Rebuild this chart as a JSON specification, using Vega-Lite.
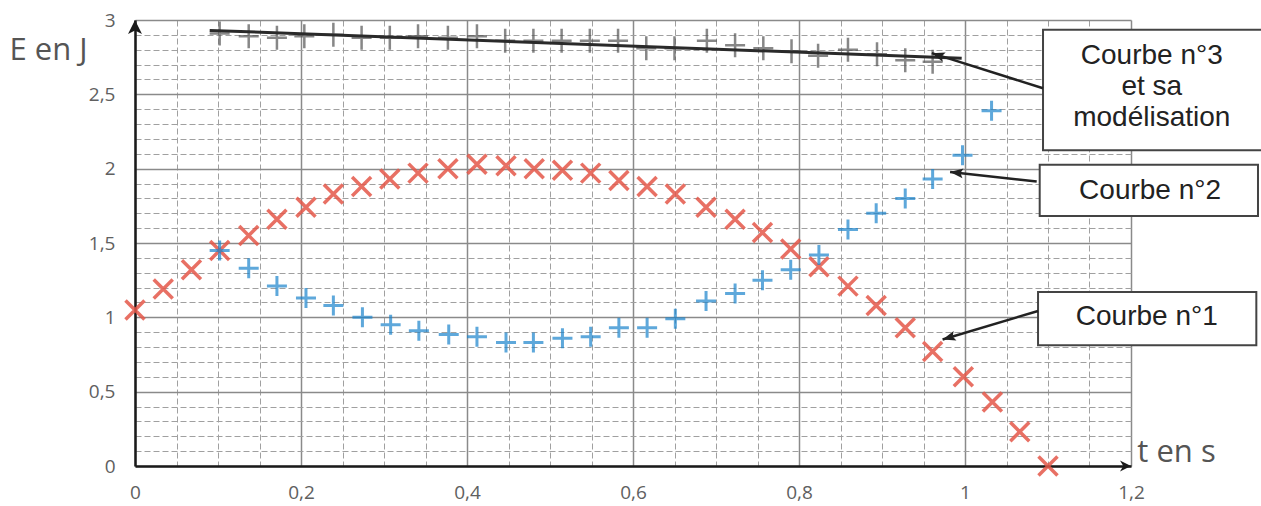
{
  "$schema": "https://vega.github.io/schema/vega-lite/v6.json",
  "width": 996,
  "height": 446,
  "autosize": "none",
  "padding": {"left": 135, "top": 20, "right": 130, "bottom": 40},
  "background": "white",
  "config": {"view": {"stroke": null}},
  "datasets": {
    "c1": [
      {"t": 0, "E": 1.05}, {"t": 0.034, "E": 1.19}, {"t": 0.068, "E": 1.32}, {"t": 0.102, "E": 1.45},
      {"t": 0.137, "E": 1.55}, {"t": 0.171, "E": 1.66}, {"t": 0.206, "E": 1.74}, {"t": 0.239, "E": 1.83},
      {"t": 0.273, "E": 1.88}, {"t": 0.307, "E": 1.93}, {"t": 0.341, "E": 1.97}, {"t": 0.377, "E": 2.0},
      {"t": 0.412, "E": 2.03}, {"t": 0.447, "E": 2.02}, {"t": 0.481, "E": 2.0}, {"t": 0.515, "E": 1.99},
      {"t": 0.549, "E": 1.97}, {"t": 0.583, "E": 1.92}, {"t": 0.617, "E": 1.88}, {"t": 0.651, "E": 1.83},
      {"t": 0.688, "E": 1.74}, {"t": 0.723, "E": 1.66}, {"t": 0.756, "E": 1.57}, {"t": 0.79, "E": 1.46},
      {"t": 0.824, "E": 1.34}, {"t": 0.859, "E": 1.21}, {"t": 0.893, "E": 1.08}, {"t": 0.928, "E": 0.93},
      {"t": 0.961, "E": 0.77}, {"t": 0.998, "E": 0.6}, {"t": 1.033, "E": 0.43}, {"t": 1.066, "E": 0.23},
      {"t": 1.1, "E": 0.0}
    ],
    "c2": [
      {"t": 0.102, "E": 1.45}, {"t": 0.137, "E": 1.33}, {"t": 0.171, "E": 1.21}, {"t": 0.206, "E": 1.13},
      {"t": 0.239, "E": 1.08}, {"t": 0.274, "E": 1.0}, {"t": 0.308, "E": 0.95}, {"t": 0.342, "E": 0.91},
      {"t": 0.378, "E": 0.885}, {"t": 0.412, "E": 0.87}, {"t": 0.447, "E": 0.83}, {"t": 0.48, "E": 0.83},
      {"t": 0.515, "E": 0.86}, {"t": 0.549, "E": 0.87}, {"t": 0.583, "E": 0.93}, {"t": 0.617, "E": 0.93},
      {"t": 0.651, "E": 0.99}, {"t": 0.688, "E": 1.11}, {"t": 0.723, "E": 1.16}, {"t": 0.756, "E": 1.25},
      {"t": 0.79, "E": 1.32}, {"t": 0.824, "E": 1.42}, {"t": 0.859, "E": 1.59}, {"t": 0.893, "E": 1.7},
      {"t": 0.928, "E": 1.8}, {"t": 0.961, "E": 1.93}, {"t": 0.997, "E": 2.09}, {"t": 1.032, "E": 2.39}
    ],
    "c3": [
      {"t": 0.102, "E": 2.91}, {"t": 0.137, "E": 2.89}, {"t": 0.171, "E": 2.88}, {"t": 0.204, "E": 2.89},
      {"t": 0.239, "E": 2.9}, {"t": 0.273, "E": 2.88}, {"t": 0.307, "E": 2.88}, {"t": 0.341, "E": 2.89},
      {"t": 0.377, "E": 2.88}, {"t": 0.412, "E": 2.89}, {"t": 0.446, "E": 2.86}, {"t": 0.48, "E": 2.86},
      {"t": 0.514, "E": 2.86}, {"t": 0.548, "E": 2.86}, {"t": 0.582, "E": 2.86}, {"t": 0.616, "E": 2.81},
      {"t": 0.65, "E": 2.81}, {"t": 0.689, "E": 2.86}, {"t": 0.723, "E": 2.83}, {"t": 0.757, "E": 2.81},
      {"t": 0.791, "E": 2.79}, {"t": 0.823, "E": 2.76}, {"t": 0.859, "E": 2.8}, {"t": 0.894, "E": 2.77},
      {"t": 0.928, "E": 2.73}, {"t": 0.961, "E": 2.72}
    ],
    "model": [{"t": 0.09, "E": 2.93}, {"t": 0.996, "E": 2.743}],
    "axisEnds": [{"t": 0, "E": 3, "dir": "up"}, {"t": 1.2, "E": 0, "dir": "right"}],
    "callouts": [
      {"id": 3, "label": "Courbe n°3\net sa\nmodélisation", "bx": 1.094, "bx2": 1.358, "by": 2.934, "by2": 2.124, "tx": 1.225, "ty": 2.755, "at": 1.094, "aE": 2.541, "ht": 0.96, "hE": 2.777},
      {"id": 2, "label": "Courbe n°2", "bx": 1.09, "bx2": 1.353, "by": 2.027, "by2": 1.682, "tx": 1.223, "ty": 1.851, "at": 1.0864, "aE": 1.914, "ht": 0.982, "hE": 1.978},
      {"id": 1, "label": "Courbe n°1", "bx": 1.088, "bx2": 1.351, "by": 1.171, "by2": 0.813, "tx": 1.219, "ty": 1.0, "at": 1.088, "aE": 1.043, "ht": 0.973, "hE": 0.851}
    ]
  },
  "layer": [
    {
      "data": {"name": "c1"},
      "mark": {"type": "point", "opacity": 0},
      "encoding": {
        "x": {"field": "t", "type": "quantitative", "scale": {"domain": [0, 1.2], "nice": false},
          "axis": {"orient": "bottom", "values": [0.05, 0.1, 0.15, 0.25, 0.3, 0.35, 0.45, 0.5, 0.55, 0.65, 0.7, 0.75, 0.85, 0.9, 0.95, 1.05, 1.1, 1.15],
            "grid": true, "gridColor": "#a0a0a0", "gridWidth": 1, "gridDash": [6, 3], "labels": false, "ticks": false, "domain": false, "title": null}},
        "y": {"field": "E", "type": "quantitative", "scale": {"domain": [0, 3], "nice": false},
          "axis": {"orient": "left", "values": [0.1, 0.2, 0.3, 0.4, 0.6, 0.7, 0.8, 0.9, 1.1, 1.2, 1.3, 1.4, 1.6, 1.7, 1.8, 1.9, 2.1, 2.2, 2.3, 2.4, 2.6, 2.7, 2.8, 2.9],
            "grid": true, "gridColor": "#a0a0a0", "gridWidth": 1, "gridDash": [6, 3], "labels": false, "ticks": false, "domain": false, "title": null}}
      }
    },
    {
      "data": {"name": "c1"},
      "mark": {"type": "point", "opacity": 0},
      "encoding": {
        "x": {"field": "t", "type": "quantitative", "scale": {"domain": [0, 1.2], "nice": false},
          "axis": {"orient": "bottom", "values": [0, 0.2, 0.4, 0.6, 0.8, 1, 1.2], "format": ".1~f", "labelExpr": "replace(datum.label, '.', ',')",
            "grid": true, "gridColor": "#8a8a8a", "gridWidth": 1.5, "ticks": false, "tickSize": 0,
            "domain": true, "domainColor": "#1a1a1a", "domainWidth": 2.5,
            "labelFont": "Open Sans", "labelFontSize": 19, "labelColor": "#606060", "labelPadding": 17, "labelFlush": false, "labelOverlap": false,
            "title": "t en s", "titleFont": "Open Sans", "titleFontSize": 31, "titleFontWeight": "normal", "titleColor": "#555",
            "titleX": 1041, "titleY": -14, "titleAlign": "center", "titleBaseline": "middle", "titleAngle": 0}},
        "y": {"field": "E", "type": "quantitative", "scale": {"domain": [0, 3], "nice": false},
          "axis": {"orient": "left", "values": [0, 0.5, 1, 1.5, 2, 2.5, 3], "format": ".1~f", "labelExpr": "replace(datum.label, '.', ',')",
            "grid": true, "gridColor": "#8a8a8a", "gridWidth": 1.5, "ticks": false, "tickSize": 0,
            "domain": true, "domainColor": "#1a1a1a", "domainWidth": 2.5,
            "labelFont": "Open Sans", "labelFontSize": 19, "labelColor": "#606060", "labelPadding": 20, "labelFlush": false, "labelOverlap": false,
            "title": "E en J", "titleFont": "Open Sans", "titleFontSize": 31, "titleFontWeight": "normal", "titleColor": "#555",
            "titleX": -87, "titleY": 30, "titleAlign": "center", "titleBaseline": "middle", "titleAngle": 0}}
      }
    },
    {
      "data": {"name": "c3"},
      "mark": {"type": "point", "shape": "M-1,0L1,0M0,-1.2L0,1.2", "filled": false, "size": 400, "stroke": "#555", "strokeWidth": 2.5},
      "encoding": {
        "x": {"field": "t", "type": "quantitative", "scale": {"domain": [0, 1.2], "nice": false}, "axis": null},
        "y": {"field": "E", "type": "quantitative", "scale": {"domain": [0, 3], "nice": false}, "axis": null}
      }
    },
    {
      "data": {"name": "model"},
      "mark": {"type": "line", "color": "#2a2a2a", "strokeWidth": 3},
      "encoding": {
        "x": {"field": "t", "type": "quantitative", "scale": {"domain": [0, 1.2], "nice": false}, "axis": null},
        "y": {"field": "E", "type": "quantitative", "scale": {"domain": [0, 3], "nice": false}, "axis": null}
      }
    },
    {
      "data": {"name": "c1"},
      "mark": {"type": "point", "shape": "M-1,-1L1,1M-1,1L1,-1", "filled": false, "size": 361, "stroke": "#e5584a", "strokeWidth": 3.5, "opacity": 0.85},
      "encoding": {
        "x": {"field": "t", "type": "quantitative", "scale": {"domain": [0, 1.2], "nice": false}, "axis": null},
        "y": {"field": "E", "type": "quantitative", "scale": {"domain": [0, 3], "nice": false}, "axis": null}
      }
    },
    {
      "data": {"name": "c2"},
      "mark": {"type": "point", "shape": "M-1,0L1,0M0,-1L0,1", "filled": false, "size": 400, "stroke": "#1b84cc", "strokeWidth": 3},
      "encoding": {
        "x": {"field": "t", "type": "quantitative", "scale": {"domain": [0, 1.2], "nice": false}, "axis": null},
        "y": {"field": "E", "type": "quantitative", "scale": {"domain": [0, 3], "nice": false}, "axis": null}
      }
    },
    {
      "data": {"name": "axisEnds"},
      "transform": [{"filter": "datum.dir == 'up'"}],
      "mark": {"type": "point", "shape": "M0,0L-1,2L0,1.5L1,2Z", "filled": true, "size": 196, "color": "#1a1a1a", "opacity": 1},
      "encoding": {
        "x": {"field": "t", "type": "quantitative", "scale": {"domain": [0, 1.2], "nice": false}, "axis": null},
        "y": {"field": "E", "type": "quantitative", "scale": {"domain": [0, 3], "nice": false}, "axis": null}
      }
    },
    {
      "data": {"name": "axisEnds"},
      "transform": [{"filter": "datum.dir == 'right'"}],
      "mark": {"type": "point", "shape": "M0,0L-2,-1L-1.4,0L-2,1Z", "filled": true, "size": 121, "color": "#1a1a1a", "opacity": 1},
      "encoding": {
        "x": {"field": "t", "type": "quantitative", "scale": {"domain": [0, 1.2], "nice": false}, "axis": null},
        "y": {"field": "E", "type": "quantitative", "scale": {"domain": [0, 3], "nice": false}, "axis": null}
      }
    },
    {
      "data": {"name": "callouts"},
      "mark": {"type": "rect", "fill": "white", "stroke": "#444", "strokeWidth": 2},
      "encoding": {
        "x": {"field": "bx", "type": "quantitative", "scale": {"domain": [0, 1.2], "nice": false}, "axis": null},
        "x2": {"field": "bx2"},
        "y": {"field": "by", "type": "quantitative", "scale": {"domain": [0, 3], "nice": false}, "axis": null},
        "y2": {"field": "by2"}
      }
    },
    {
      "data": {"name": "callouts"},
      "mark": {"type": "text", "font": "Liberation Sans", "fontSize": 28, "color": "#222", "align": "center", "baseline": "middle", "lineBreak": "\n", "lineHeight": 31},
      "encoding": {
        "x": {"field": "tx", "type": "quantitative", "scale": {"domain": [0, 1.2], "nice": false}, "axis": null},
        "y": {"field": "ty", "type": "quantitative", "scale": {"domain": [0, 3], "nice": false}, "axis": null},
        "text": {"field": "label"}
      }
    },
    {
      "data": {"name": "callouts"},
      "mark": {"type": "rule", "color": "#222", "strokeWidth": 2.5},
      "encoding": {
        "x": {"field": "at", "type": "quantitative", "scale": {"domain": [0, 1.2], "nice": false}, "axis": null},
        "x2": {"field": "ht"},
        "y": {"field": "aE", "type": "quantitative", "scale": {"domain": [0, 3], "nice": false}, "axis": null},
        "y2": {"field": "hE"}
      }
    },
    {
      "data": {"name": "callouts"},
      "transform": [{"filter": "datum.id == 3"}],
      "mark": {"type": "point", "shape": "M0,0L-2,-0.75L-1.6,0L-2,0.75Z", "filled": true, "size": 169, "color": "#222", "opacity": 1, "angle": 197.5},
      "encoding": {
        "x": {"field": "ht", "type": "quantitative", "scale": {"domain": [0, 1.2], "nice": false}, "axis": null},
        "y": {"field": "hE", "type": "quantitative", "scale": {"domain": [0, 3], "nice": false}, "axis": null}
      }
    },
    {
      "data": {"name": "callouts"},
      "transform": [{"filter": "datum.id == 2"}],
      "mark": {"type": "point", "shape": "M0,0L-2,-0.75L-1.6,0L-2,0.75Z", "filled": true, "size": 169, "color": "#222", "opacity": 1, "angle": 186.2},
      "encoding": {
        "x": {"field": "ht", "type": "quantitative", "scale": {"domain": [0, 1.2], "nice": false}, "axis": null},
        "y": {"field": "hE", "type": "quantitative", "scale": {"domain": [0, 3], "nice": false}, "axis": null}
      }
    },
    {
      "data": {"name": "callouts"},
      "transform": [{"filter": "datum.id == 1"}],
      "mark": {"type": "point", "shape": "M0,0L-2,-0.75L-1.6,0L-2,0.75Z", "filled": true, "size": 169, "color": "#222", "opacity": 1, "angle": 163.5},
      "encoding": {
        "x": {"field": "ht", "type": "quantitative", "scale": {"domain": [0, 1.2], "nice": false}, "axis": null},
        "y": {"field": "hE", "type": "quantitative", "scale": {"domain": [0, 3], "nice": false}, "axis": null}
      }
    }
  ],
  "resolve": {"axis": {"x": "independent", "y": "independent"}}
}
